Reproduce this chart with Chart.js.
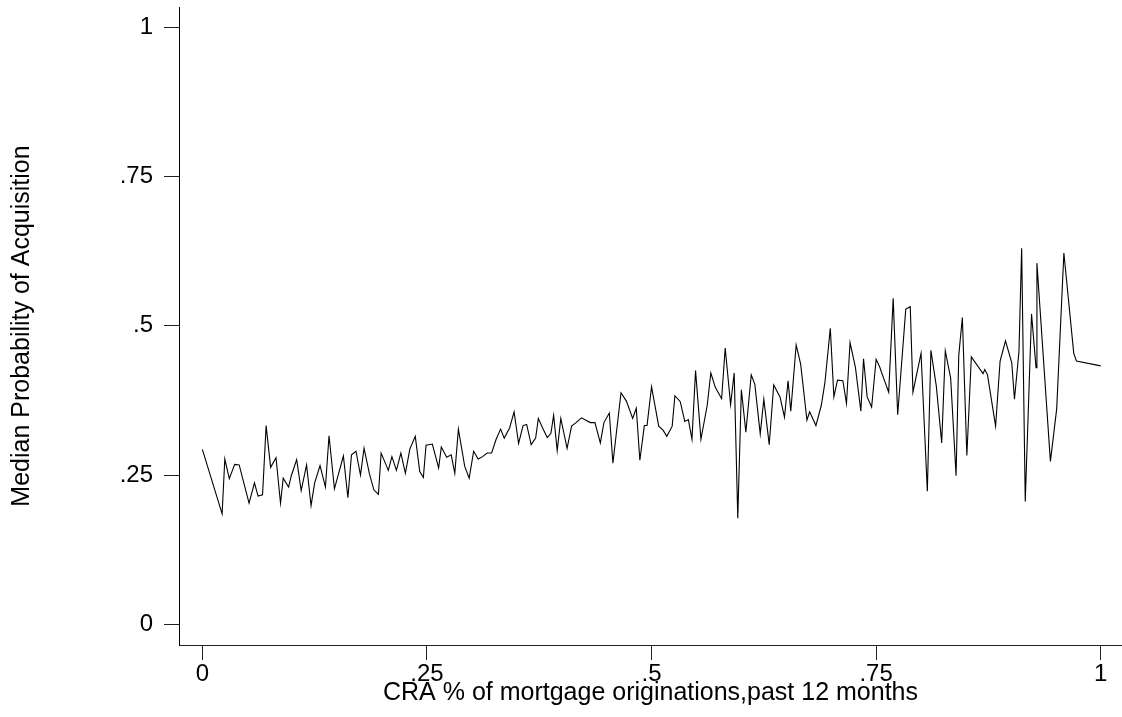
<!DOCTYPE html>
<html>
<head>
<meta charset="utf-8">
<script src="https://cdn.jsdelivr.net/npm/chart.js@4.4.0/dist/chart.umd.min.js"></script>
<style>
  html, body { margin: 0; padding: 0; background: #fff; }
  #wrap { width: 1122px; height: 717px; position: relative; }
</style>
</head>
<body>
<div id="wrap"><canvas id="chart"></canvas></div>
<script>
// CRA share of originations (x) and median acquisition probability (y)
const craShare = [
  0.000, 0.022, 0.025, 0.030, 0.036, 0.041, 0.047, 0.052, 0.058, 0.062,
  0.067, 0.071, 0.076, 0.082, 0.087, 0.090, 0.096, 0.099, 0.105, 0.110,
  0.116, 0.121, 0.125, 0.131, 0.137, 0.141, 0.147, 0.157, 0.162, 0.166,
  0.171, 0.176, 0.180, 0.186, 0.191, 0.196, 0.199, 0.207, 0.211, 0.216,
  0.221, 0.226, 0.231, 0.237, 0.242, 0.246, 0.249, 0.256, 0.263, 0.266,
  0.272, 0.277, 0.281, 0.285, 0.292, 0.297, 0.302, 0.307, 0.312, 0.317,
  0.322, 0.327, 0.332, 0.336, 0.342, 0.347, 0.352, 0.357, 0.361, 0.366,
  0.371, 0.374, 0.379, 0.384, 0.388, 0.391, 0.395, 0.399, 0.406, 0.411,
  0.416, 0.422, 0.427, 0.432, 0.437, 0.443, 0.447, 0.453, 0.457, 0.466,
  0.472, 0.479, 0.483, 0.487, 0.492, 0.495, 0.500, 0.508, 0.513, 0.517,
  0.523, 0.526, 0.532, 0.537, 0.541, 0.545, 0.549, 0.555, 0.562, 0.566,
  0.571, 0.578, 0.582, 0.588, 0.592, 0.596, 0.600, 0.605, 0.611, 0.615,
  0.621, 0.625, 0.631, 0.636, 0.643, 0.648, 0.652, 0.655, 0.661, 0.666,
  0.673, 0.676, 0.683, 0.689, 0.693, 0.699, 0.703, 0.707, 0.713, 0.717,
  0.721, 0.727, 0.733, 0.736, 0.740, 0.745, 0.750, 0.754, 0.757, 0.764,
  0.769, 0.774, 0.783, 0.788, 0.791, 0.800, 0.807, 0.811, 0.817, 0.823,
  0.827, 0.833, 0.839, 0.842, 0.846, 0.851, 0.856, 0.869, 0.871, 0.874,
  0.883, 0.888, 0.894, 0.901, 0.904, 0.909, 0.912, 0.916, 0.923, 0.928,
  0.929, 0.944, 0.951, 0.959, 0.970, 0.973, 1.000
];
const medianProb = [
  0.293, 0.185, 0.277, 0.244, 0.268, 0.267, 0.232, 0.203, 0.237, 0.215,
  0.217, 0.333, 0.263, 0.279, 0.203, 0.245, 0.230, 0.249, 0.276, 0.224,
  0.267, 0.199, 0.237, 0.266, 0.230, 0.316, 0.227, 0.282, 0.212, 0.284,
  0.290, 0.250, 0.295, 0.252, 0.225, 0.218, 0.287, 0.258, 0.281, 0.258,
  0.287, 0.253, 0.294, 0.315, 0.256, 0.246, 0.300, 0.302, 0.262, 0.297,
  0.280, 0.284, 0.253, 0.327, 0.265, 0.245, 0.290, 0.277, 0.281, 0.287,
  0.287, 0.310, 0.327, 0.312, 0.329, 0.356, 0.303, 0.333, 0.335, 0.301,
  0.312, 0.345, 0.328, 0.313, 0.320, 0.350, 0.291, 0.345, 0.295, 0.332,
  0.338, 0.346, 0.342, 0.338, 0.338, 0.304, 0.338, 0.354, 0.270, 0.388,
  0.374, 0.345, 0.362, 0.275, 0.333, 0.333, 0.398, 0.332, 0.325, 0.315,
  0.332, 0.383, 0.373, 0.340, 0.343, 0.310, 0.425, 0.310, 0.367, 0.421,
  0.397, 0.378, 0.463, 0.368, 0.421, 0.178, 0.393, 0.322, 0.418, 0.402,
  0.319, 0.377, 0.301, 0.401, 0.381, 0.347, 0.408, 0.357, 0.468, 0.436,
  0.342, 0.356, 0.333, 0.367, 0.405, 0.496, 0.381, 0.409, 0.408, 0.370,
  0.472, 0.430, 0.357, 0.445, 0.381, 0.364, 0.444, 0.431, 0.418, 0.389,
  0.546, 0.351, 0.528, 0.532, 0.389, 0.454, 0.223, 0.459, 0.399, 0.304,
  0.458, 0.412, 0.249, 0.451, 0.514, 0.283, 0.448, 0.420, 0.427, 0.418,
  0.332, 0.441, 0.475, 0.438, 0.377, 0.457, 0.630, 0.206, 0.520, 0.430,
  0.605, 0.273, 0.361, 0.622, 0.454, 0.441, 0.433
];

const xTickValues = [0, 0.25, 0.5, 0.75, 1];
const xTickLabels = ['0', '.25', '.5', '.75', '1'];
const yTickValues = [0, 0.25, 0.5, 0.75, 1];
const yTickLabels = ['0', '.25', '.5', '.75', '1'];

const fontFamily = '"Liberation Sans", Arial, sans-serif';

const points = craShare.map((x, i) => ({ x: x, y: medianProb[i] }));

const ctx = document.getElementById('chart').getContext('2d');

new Chart(ctx, {
  type: 'line',
  data: {
    datasets: [{
      data: points,
      borderColor: '#000',
      borderWidth: 1.1,
      pointRadius: 0,
      tension: 0,
      fill: false,
    }],
  },
  options: {
    responsive: true,
    maintainAspectRatio: false,
    animation: false,
    layout: { padding: { top: 7, right: 0, left: 0, bottom: 0 } },
    plugins: {
      legend: { display: false },
      tooltip: { enabled: false },
    },
    scales: {
      x: {
        type: 'linear',
        position: 'bottom',
        min: -0.026,
        max: 1.0237,
        afterBuildTicks: (scale) => {
          scale.ticks = xTickValues.map(v => ({ value: v }));
        },
        afterFit: (scale) => {
          scale.height = 72;
          scale.paddingLeft = 0;
          scale.paddingRight = 0;
        },
        ticks: {
          autoSkip: false,
          maxRotation: 0,
          padding: 0,
          color: '#000',
          font: { family: fontFamily, size: 24 },
          callback: (value, index) => xTickLabels[index],
        },
        grid: {
          drawOnChartArea: false,
          drawTicks: true,
          tickLength: 15,
          color: '#222',
          lineWidth: 1,
        },
        border: { display: true, color: '#222', width: 1 },
        title: {
          display: true,
          text: 'CRA % of mortgage originations,past 12 months',
          color: '#000',
          font: { family: fontFamily, size: 25 },
          padding: { top: 0, bottom: 9 },
        },
      },
      y: {
        type: 'linear',
        position: 'left',
        min: -0.0345,
        max: 1.034,
        afterBuildTicks: (scale) => {
          scale.ticks = yTickValues.map(v => ({ value: v }));
        },
        afterFit: (scale) => {
          scale.width = 179;
          scale.paddingTop = 0;
          scale.paddingBottom = 0;
        },
        ticks: {
          autoSkip: false,
          padding: 11,
          color: '#000',
          font: { family: fontFamily, size: 24 },
          callback: (value, index) => yTickLabels[index],
        },
        grid: {
          drawOnChartArea: false,
          drawTicks: true,
          tickLength: 15,
          color: '#222',
          lineWidth: 1,
        },
        border: { display: true, color: '#000', width: 1 },
        title: {
          display: true,
          text: 'Median Probability of Acquisition',
          color: '#000',
          font: { family: fontFamily, size: 25 },
          padding: { top: 7, bottom: 0 },
        },
      },
    },
  },
});
</script>
</body>
</html>
